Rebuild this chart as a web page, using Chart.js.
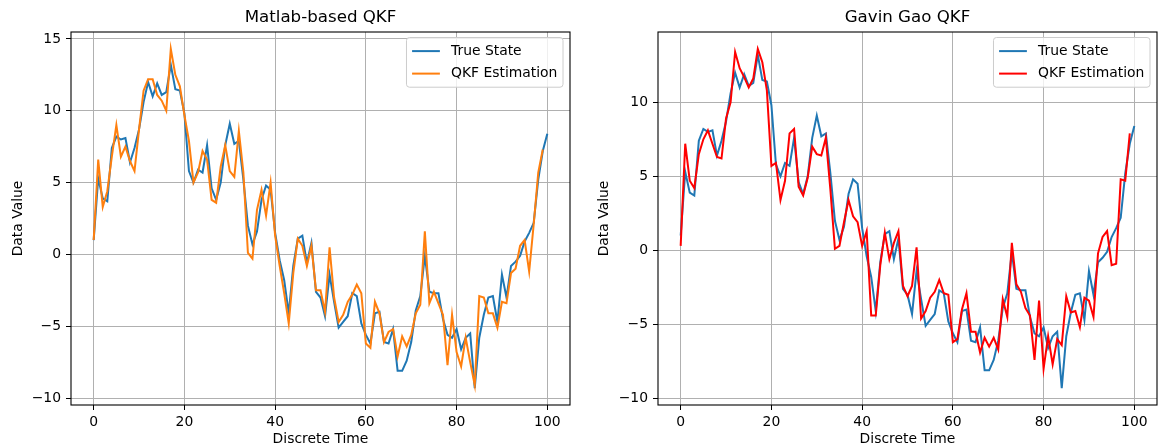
<!DOCTYPE html>
<html>
<head>
<meta charset="utf-8">
<script src="https://cdn.jsdelivr.net/npm/chart.js@4.4.0/dist/chart.umd.min.js"></script>
<style>
  html, body { margin: 0; padding: 0; background: #fff; }
  #wrap { position: relative; width: 1159px; height: 448px; }
  #wrap canvas { position: absolute; top: 0; }
  #chartLeft { left: 0; }
  #chartRight { left: 580px; }
</style>
</head>
<body>
<div id="wrap">
  <canvas id="chartLeft" width="580" height="448"></canvas>
  <canvas id="chartRight" width="579" height="448"></canvas>
</div>
<script>
// values, t = 0..100
const trueState = [
  1.0, 5.3, 3.9, 3.7, 7.4, 8.2, 8.0, 8.1, 6.4, 7.4,
  8.7, 10.6, 12.0, 11.0, 11.9, 11.1, 11.3, 13.2, 11.5, 11.4,
  9.8, 5.8, 5.0, 5.9, 5.7, 7.6, 4.6, 3.8, 5.0, 7.6,
  9.1, 7.7, 7.9, 5.2, 2.0, 0.7, 1.6, 3.8, 4.8, 4.5,
  1.5, -0.4, -1.8, -4.1, -0.8, 1.1, 1.3, -0.6, 0.8, -2.6,
  -3.0, -4.3, -1.4, -3.3, -5.1, -4.7, -4.3, -2.7, -2.9, -4.8,
  -5.6, -6.2, -4.1, -4.0, -6.1, -6.2, -5.2, -8.1, -8.1, -7.4,
  -6.1, -3.9, -2.9, -0.1, -2.6, -2.7, -2.7, -4.5, -5.6, -5.8,
  -5.2, -6.6, -5.8, -5.5, -9.3, -5.8, -4.2, -3.0, -2.9, -4.7,
  -1.4, -3.0, -0.8, -0.5, -0.1, 0.9, 1.5, 2.2, 5.2, 7.2,
  8.4
];
const matlabQkf = [
  1.0, 6.6, 3.3, 4.4, 6.8, 9.0, 6.8, 7.5, 6.5, 5.8,
  8.7, 11.4, 12.2, 12.2, 11.1, 10.7, 10.0, 14.3, 12.5, 11.7,
  9.7, 7.9, 5.0, 5.7, 7.2, 6.6, 3.8, 3.6, 6.1, 7.6,
  5.8, 5.4, 8.6, 5.7, 0.1, -0.3, 3.1, 4.5, 2.7, 5.0,
  1.3, -0.8, -2.7, -4.8, -1.3, 1.1, 0.6, -0.8, 0.6, -2.5,
  -2.5, -4.0, 0.5, -3.0, -4.7, -4.2, -3.3, -2.8, -2.1, -2.7,
  -6.2, -6.5, -3.3, -4.1, -6.1, -5.4, -5.2, -7.1, -5.7, -6.4,
  -5.6, -4.1, -3.5, 1.6, -3.4, -2.6, -3.4, -4.2, -7.7, -4.2,
  -6.8, -7.8, -5.8, -7.5, -9.1, -2.9, -3.0, -4.1, -4.1, -5.1,
  -3.3, -3.4, -1.3, -1.0, 0.6, 1.0, -1.2, 2.1, 5.7, 7.3
];
const gavinQkf = [
  0.3, 7.2, 4.7, 4.2, 6.5, 7.5, 8.1, 7.2, 6.3, 6.2,
  8.9, 10.0, 13.4, 12.3, 11.7, 11.0, 11.6, 13.6, 12.7, 10.8,
  5.7, 5.9, 3.4, 4.7, 7.9, 8.2, 4.3, 3.7, 4.9, 7.0,
  6.5, 6.4, 7.6, 4.1, 0.1, 0.3, 1.9, 3.4, 2.3, 1.9,
  0.3, 1.3, -4.4, -4.4, -1.0, 1.2, -0.6, 0.5, 1.3, -2.4,
  -3.1, -2.4, 0.2, -4.6, -4.1, -3.2, -2.8, -2.0, -2.9, -3.0,
  -6.2, -6.0, -4.0, -2.9, -5.5, -5.5, -6.9, -5.9, -6.5, -5.9,
  -6.7, -3.3, -4.5, 0.5, -2.3, -2.8, -3.9, -4.4, -7.4, -3.4,
  -8.0, -5.8, -7.7, -6.0, -6.4, -3.1, -4.2, -4.1, -5.2, -3.2,
  -3.4, -4.5, -0.2, 0.9, 1.3, -1.0, -0.9, 4.8, 4.7, 7.9
];
const xTicks = [0, 20, 40, 60, 80, 100];
const leftYTicks = [-10, -5, 0, 5, 10, 15];
const rightYTicks = [-10, -5, 0, 5, 10];

const FONT = "'DejaVu Sans', sans-serif";

function points(arr) {
  return arr.map((v, i) => ({ x: i, y: v }));
}

// matplotlib style 5% margins
function limits(arrs) {
  const all = [].concat(...arrs);
  const lo = Math.min(...all), hi = Math.max(...all);
  const m = (hi - lo) * 0.05;
  return [lo - m, hi + m];
}

const frame = {
  id: 'frame',
  afterDatasetsDraw(chart) {
    const { ctx, chartArea: a } = chart;
    ctx.save();
    ctx.strokeStyle = '#000';
    ctx.lineWidth = 1.1;
    ctx.strokeRect(a.left, a.top, a.right - a.left, a.bottom - a.top);
    ctx.restore();
  }
};

const insideLegend = {
  id: 'insideLegend',
  afterDraw(chart) {
    const { ctx, chartArea: a } = chart;
    const items = chart.data.datasets.map(d => ({ label: d.label, color: d.borderColor }));
    ctx.save();
    ctx.font = '13.9px ' + FONT;
    const textW = Math.max(...items.map(it => ctx.measureText(it.label).width));
    const pad = 5.6, handle = 27.8, gap = 11.1, rowH = 16, spacing = 6.5;
    const w = pad * 2 + handle + gap + textW;
    const h = pad * 2 + rowH * 2 + spacing;
    const x = a.right - 7 - w;
    const y = a.top + 5.5;
    ctx.beginPath();
    ctx.roundRect(x, y, w, h, 3);
    ctx.fillStyle = 'rgba(255,255,255,0.8)';
    ctx.fill();
    ctx.strokeStyle = '#cccccc';
    ctx.lineWidth = 1;
    ctx.stroke();
    items.forEach((it, i) => {
      const cy = y + pad + rowH / 2 + i * (rowH + spacing);
      ctx.beginPath();
      ctx.moveTo(x + pad, cy);
      ctx.lineTo(x + pad + handle, cy);
      ctx.strokeStyle = it.color;
      ctx.lineWidth = 2;
      ctx.stroke();
      ctx.fillStyle = '#000';
      ctx.textBaseline = 'middle';
      ctx.fillText(it.label, x + pad + handle + gap, cy);
    });
    ctx.restore();
  }
};

function makeChart(canvasId, title, estimate, estColor, yTicks, yAxisWidth, yTitlePad, rightPad) {
  const [yMin, yMax] = limits([trueState, estimate]);
  return new Chart(document.getElementById(canvasId), {
    type: 'line',
    data: {
      datasets: [
        { label: 'True State', data: points(trueState), borderColor: '#1f77b4', borderWidth: 2, order: 2 },
        { label: 'QKF Estimation', data: points(estimate), borderColor: estColor, borderWidth: 2, order: 1 }
      ]
    },
    options: {
      responsive: false,
      animation: false,
      events: [],
      elements: { point: { radius: 0 }, line: { tension: 0 } },
      layout: { padding: { left: 0, right: rightPad, top: 0, bottom: 0 } },
      plugins: {
        legend: { display: false },
        tooltip: { enabled: false },
        title: {
          display: true,
          text: title,
          fullSize: false,
          color: '#000',
          font: { family: FONT, size: 16.67, weight: 'normal' },
          padding: { top: 8, bottom: 4 }
        }
      },
      scales: {
        x: {
          type: 'linear',
          min: -5,
          max: 105,
          afterBuildTicks: s => { s.ticks = xTicks.map(v => ({ value: v })); },
          afterFit: s => { s.height = 43; },
          border: { display: false },
          grid: { color: '#b0b0b0', lineWidth: 1, tickColor: '#000', tickLength: 5, tickWidth: 1 },
          ticks: { color: '#000', padding: 4, maxRotation: 0, font: { family: FONT, size: 13.9 } },
          title: { display: true, text: 'Discrete Time', color: '#000', font: { family: FONT, size: 13.9 }, padding: { top: 0, bottom: 0 } }
        },
        y: {
          type: 'linear',
          min: yMin,
          max: yMax,
          afterBuildTicks: s => { s.ticks = yTicks.map(v => ({ value: v })); },
          afterFit: s => { s.width = yAxisWidth; },
          border: { display: false },
          grid: { color: '#b0b0b0', lineWidth: 1, tickColor: '#000', tickLength: 5, tickWidth: 1 },
          ticks: {
            color: '#000', padding: 5, font: { family: FONT, size: 13.9 },
            callback: v => (v < 0 ? '\u2212' + Math.abs(v) : String(v))
          },
          title: { display: true, text: 'Data Value', color: '#000', font: { family: FONT, size: 13.9 }, padding: { top: yTitlePad, bottom: 0 } }
        }
      }
    },
    plugins: [frame, insideLegend]
  });
}

makeChart('chartLeft', 'Matlab-based QKF', matlabQkf, '#ff7f0e', leftYTicks, 71, 10, 10);
makeChart('chartRight', 'Gavin Gao QKF', gavinQkf, '#ff0000', rightYTicks, 78, 16, 2);
</script>
</body>
</html>
